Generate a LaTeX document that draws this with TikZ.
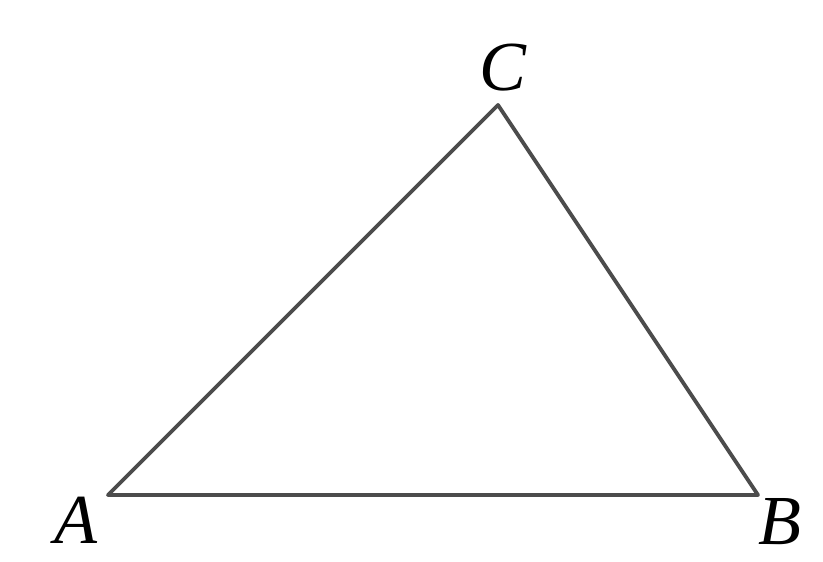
\documentclass[tikz,border=0pt]{standalone}
\usepackage{fontspec}
\setmainfont{Liberation Serif}
\usetikzlibrary{positioning,calc}

\begin{document}
\begin{tikzpicture}[
  x=0.02cm,y=-0.02cm,
  side/.style={draw=black!70,line width=2.2pt,line join=round},
  vlab/.style={font=\fontsize{40}{44}\selectfont\itshape,inner sep=0pt},
]
  \useasboundingbox (0,0) rectangle (823,562);
  \coordinate (A) at (108,495);
  \coordinate (B) at (758,495);
  \coordinate (C) at (498,105);
  \draw[side] (A) -- (B) -- (C) -- cycle;
  \node[vlab] (la) at (76,520) {A};
  \node[vlab] (lb) at (780,522) {B};
  \node[vlab] (lc) at (503,68) {C};
\end{tikzpicture}
\end{document}
